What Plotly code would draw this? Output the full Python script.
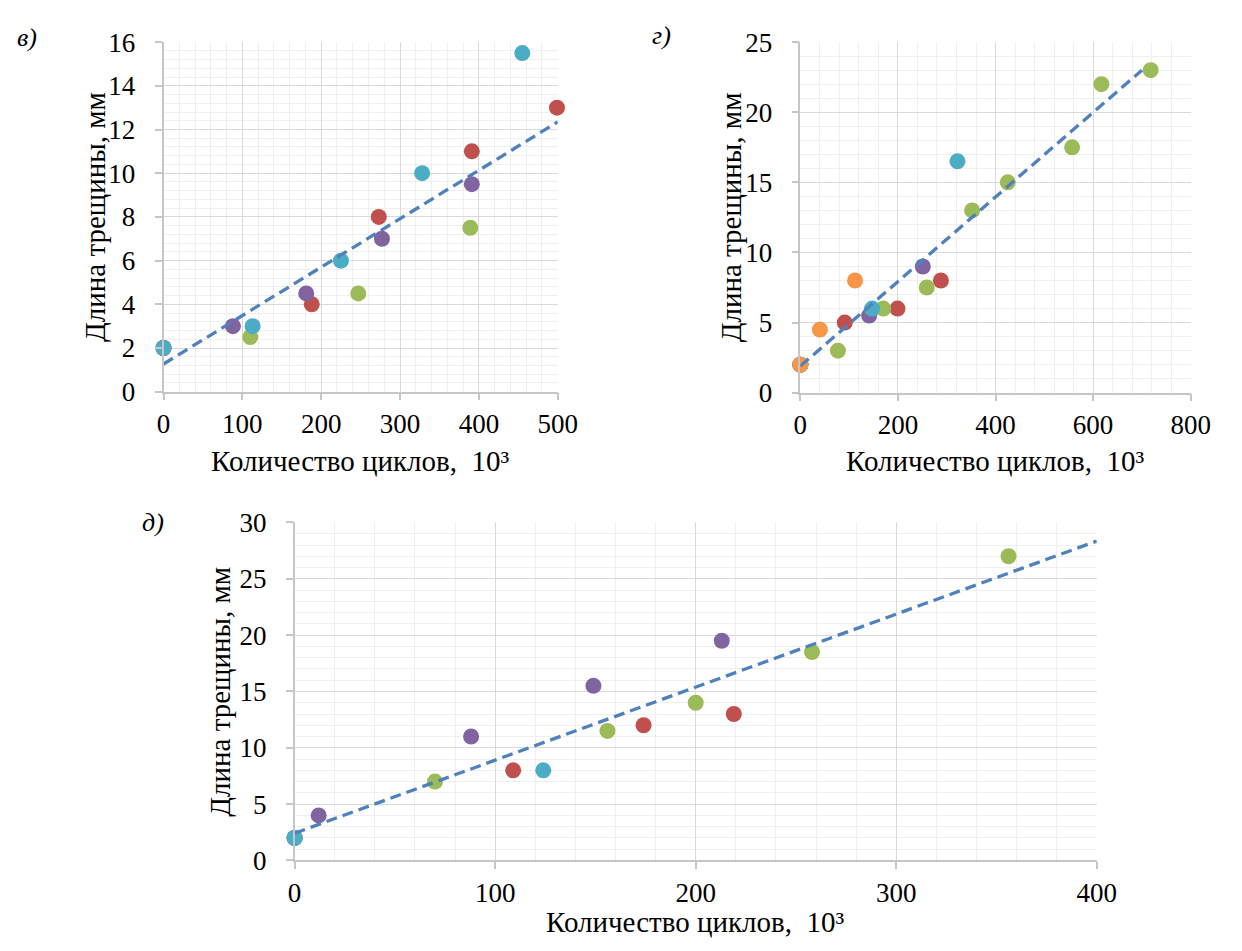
import plotly.graph_objects as go

W, H = 1242, 951

# ---------------- data ----------------
# panel в)
v_red_x = [0, 188, 273, 391, 499]
v_red_y = [2, 4, 8, 11, 13]
v_green_x = [0, 110, 247, 389]
v_green_y = [2, 2.5, 4.5, 7.5]
v_purple_x = [0, 88, 181, 277, 391]
v_purple_y = [2, 3, 4.5, 7, 9.5]
v_cyan_x = [0, 113, 225, 328, 455]
v_cyan_y = [2, 3, 6, 10, 15.5]
v_trend_x = [0, 500]
v_trend_y = [1.27, 12.35]

# panel г)
g_red_x = [0, 91, 199, 288]
g_red_y = [2, 5, 6, 8]
g_green_x = [0, 77, 170, 259, 352, 425, 557, 617, 718]
g_green_y = [2, 3, 6, 7.5, 13, 15, 17.5, 22, 23]
g_purple_x = [0, 141, 251]
g_purple_y = [2, 5.5, 9]
g_cyan_x = [0, 147, 322]
g_cyan_y = [2, 6, 16.5]
g_orange_x = [0, 40, 112]
g_orange_y = [2, 4.5, 8]
g_trend_x = [0, 700]
g_trend_y = [1.9, 23.0]

# panel д)
d_red_x = [0, 109, 174, 219]
d_red_y = [2, 8, 12, 13]
d_green_x = [0, 70, 156, 200, 258, 356]
d_green_y = [2, 7, 11.5, 14, 18.5, 27]
d_purple_x = [0, 12, 88, 149, 213]
d_purple_y = [2, 4, 11, 15.5, 19.5]
d_cyan_x = [0, 124]
d_cyan_y = [2, 8]
d_trend_x = [0, 400]
d_trend_y = [2.42, 28.35]

x_title = "Количество циклов,\u00a0 10³"
y_title = "Длина трещины, мм"
panel_labels = ["в)", "г)", "д)"]

# ---------------- style ----------------
RED, GREEN, PURPLE, CYAN, ORANGE, BLUE = "#C0504D", "#9BBB59", "#8064A2", "#4BACC6", "#F79646", "#4F81BD"
FONT = '"Liberation Serif", "Times New Roman", Times, "DejaVu Serif", serif'
MS = 16

def px_x(x):
    return x / W

def px_y(y):
    return 1 - y / H

fig = go.Figure()

def add_panel(idx, series, trend_x, trend_y):
    xa = "x" if idx == 1 else f"x{idx}"
    ya = "y" if idx == 1 else f"y{idx}"
    for xs, ys, col in series:
        fig.add_trace(go.Scatter(x=xs, y=ys, mode="markers", xaxis=xa, yaxis=ya,
                                 marker=dict(size=MS, color=col, line=dict(width=0)),
                                 cliponaxis=False, showlegend=False, hoverinfo="skip"))
    fig.add_trace(go.Scatter(x=trend_x, y=trend_y, mode="lines", xaxis=xa, yaxis=ya,
                             line=dict(color=BLUE, width=3.3, dash="11px,6px"),
                             cliponaxis=False, showlegend=False, hoverinfo="skip"))

add_panel(1, [(v_red_x, v_red_y, RED), (v_green_x, v_green_y, GREEN),
              (v_purple_x, v_purple_y, PURPLE), (v_cyan_x, v_cyan_y, CYAN)],
          v_trend_x, v_trend_y)
add_panel(2, [(g_red_x, g_red_y, RED), (g_green_x, g_green_y, GREEN),
              (g_purple_x, g_purple_y, PURPLE), (g_cyan_x, g_cyan_y, CYAN),
              (g_orange_x, g_orange_y, ORANGE)],
          g_trend_x, g_trend_y)
add_panel(3, [(d_red_x, d_red_y, RED), (d_green_x, d_green_y, GREEN),
              (d_purple_x, d_purple_y, PURPLE), (d_cyan_x, d_cyan_y, CYAN)],
          d_trend_x, d_trend_y)

def axis(domain, rng, dtick, mdtick, anchor, standoff):
    return dict(domain=domain, range=rng, dtick=dtick, tick0=0, anchor=anchor,
                showgrid=True, gridcolor="#d9d9d9", gridwidth=1.3,
                minor=dict(dtick=mdtick, tick0=0, showgrid=True, gridcolor="#efefef", gridwidth=1, ticks=""),
                showline=True, linecolor="#c6c6c6", linewidth=1.5,
                ticks="outside", ticklen=7, tickcolor="#c6c6c6", tickwidth=1.5,
                ticklabelstandoff=standoff,
                zeroline=False, fixedrange=True,
                tickfont=dict(family=FONT, size=27, color="black"))

# pixel boxes of the plot areas: (left, right, top, bottom)
boxes = [(160, 563, 28, 389), (811, 1210, 28, 390), (294, 1114, 524, 873)]
ranges = [((0, 500), (0, 16), 100, 20, 2, 0.4),
          ((0, 800), (0, 25), 200, 40, 5, 1),
          ((0, 400), (0, 30), 100, 20, 5, 1)]

layout = dict(width=W, height=H, autosize=False, margin=dict(l=0, r=0, t=0, b=0),
              paper_bgcolor="white", plot_bgcolor="white", showlegend=False,
              font=dict(family=FONT, color="black"))
annotations = []
label_pos = [(20, 23), (669, 21), (149, 524)]
ytitle_x = [90, 740, 218]
xtitle_y = [461, 461, 937]
for i, ((l, r, t, b), (xr, yr, xd, xmd, yd, ymd)) in enumerate(zip(boxes, ranges)):
    n = "" if i == 0 else str(i + 1)
    layout["xaxis" + n] = axis([px_x(l), px_x(r)], list(xr), xd, xmd, "y" + n, 0)
    layout["yaxis" + n] = axis([px_y(b), px_y(t)], list(yr), yd, ymd, "x" + n, 14)
    annotations.append(dict(text=x_title, x=px_x((l + r) / 2), y=px_y(xtitle_y[i]), xref="paper", yref="paper",
                            showarrow=False, xanchor="center", yanchor="middle",
                            font=dict(family=FONT, size=29, color="black")))
    annotations.append(dict(text=y_title, x=px_x(ytitle_x[i]), y=px_y((t + b) / 2), xref="paper", yref="paper",
                            showarrow=False, xanchor="center", yanchor="middle", textangle=-90,
                            font=dict(family=FONT, size=29, color="black")))
    lx, ly = label_pos[i]
    annotations.append(dict(text="<i>" + panel_labels[i] + "</i>", x=px_x(lx), y=px_y(ly), xref="paper", yref="paper",
                            showarrow=False, xanchor="center", yanchor="middle",
                            font=dict(family=FONT, size=26, color="black")))
layout["annotations"] = annotations
fig.update_layout(**layout)

fig.write_html("out.html")
